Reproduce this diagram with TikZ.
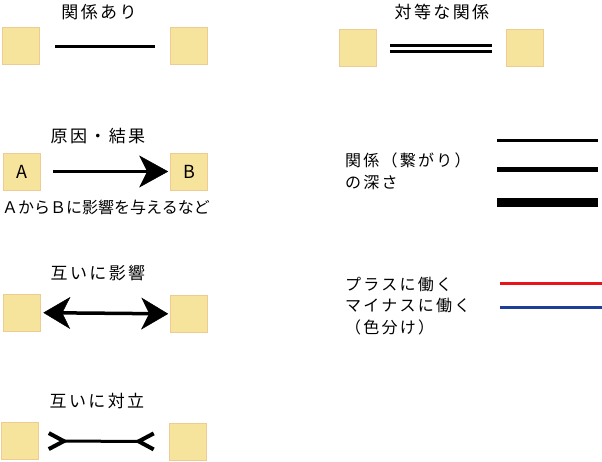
\documentclass[tikz,border=0pt]{standalone}
\usepackage{fontspec}
\newfontfamily\jpfont{Noto Sans CJK JP}
\newfontfamily\jpwide[LetterSpace=14]{Noto Sans CJK JP}
\usetikzlibrary{arrows.meta}
\definecolor{boxfill}{HTML}{F6E39C}
\definecolor{boxedge}{HTML}{EECB93}
\definecolor{plusred}{HTML}{E8141C}
\definecolor{minusblue}{HTML}{1E3E98}

\begin{document}
\begin{tikzpicture}
  [x=1pt,y=-1pt,
   note/.style={draw=boxedge,fill=boxfill,semithick,minimum size=37pt,inner sep=0pt,
     font=\jpfont\fontsize{18}{18}\selectfont},
   label/.style={inner sep=0pt,font=\jpwide\fontsize{17}{21.5}\selectfont},
   remark/.style={inner sep=0pt,align=left,font=\jpwide\fontsize{16}{21.5}\selectfont},
   link/.style={-,line width=3pt},
   cause/.style={line width=3.5pt,-{Stealth[length=29pt,width=32pt,inset=8pt,line width=0.5pt]}},
   mutual/.style={line width=3.5pt,{Stealth[length=27pt,width=32pt,inset=8pt,line width=0.5pt]}-{Stealth[length=27pt,width=32pt,inset=8pt,line width=0.5pt]}},
   oppose/.style={line width=3pt,{Straight Barb[reversed,length=15pt,width=16pt,line width=4pt]}-{Straight Barb[reversed,length=15pt,width=16pt,line width=4pt]}},]

  \useasboundingbox (0,0) rectangle (602,461);

  % related
  \node[label] (relText) at (99,12) {関係あり};
  \node[note] (relL) at (21,46) {};
  \node[note] (relR) at (189,46) {};
  \draw[link,shorten <=15pt,shorten >=15pt] (relL) -- (relR);

  % equal
  \node[label] (eqText) at (442,12) {対等な関係};
  \node[note] (eqL) at (357.5,48) {};
  \node[note] (eqR) at (524.5,48) {};
  \draw[link] ([xshift=14pt,yshift=3pt]eqL.east) -- ([xshift=-14pt,yshift=3pt]eqR.west);
  \draw[link] ([xshift=14pt,yshift=-3.5pt]eqL.east) -- ([xshift=-14pt,yshift=-3.5pt]eqR.west);

  % cause and effect
  \node[label] (causeText) at (98,136) {原因・結果};
  \node[note] (a) at (21.5,171.5) {A};
  \node[note] (b) at (189,171.5) {B};
  \draw[cause,shorten <=13pt,shorten >=2pt] (a) -- (b);
  \node[inner sep=0pt,font=\jpfont\fontsize{16}{16}\selectfont] (causeNote) at (106,207) {ＡからＢに影響を与えるなど};

  % mutual influence
  \node[label] (mutualText) at (98,273) {互いに影響};
  \node[note] (mutL) at (21.5,312.5) {};
  \node[note] (mutR) at (189,314) {};
  \draw[mutual,shorten <=3pt,shorten >=2pt] (mutL) -- (mutR);

  % opposition
  \node[label] (opText) at (97,401) {互いに対立};
  \node[note] (opL) at (20,441) {};
  \node[note] (opR) at (187.5,441.5) {};
  \draw[oppose,shorten <=8pt,shorten >=13pt] (opL) -- (opR);

  % depth of relation
  \node[remark,anchor=west] (depthText) at (345,171.5) {関係（繋がり）\\の深さ};
  \draw[line width=3pt] (497,140) -- (598,140);
  \draw[line width=5pt] (497,169) -- (598,169);
  \draw[line width=9pt] (497,202) -- (598,202);

  % plus / minus
  \node[remark,anchor=west] (signText) at (345,306) {プラスに働く\\マイナスに働く\\（色分け）};
  \draw[plusred,line width=3pt] (500,283) -- (602,283);
  \draw[minusblue,line width=3pt] (500,307) -- (602,307);

\end{tikzpicture}
\end{document}
